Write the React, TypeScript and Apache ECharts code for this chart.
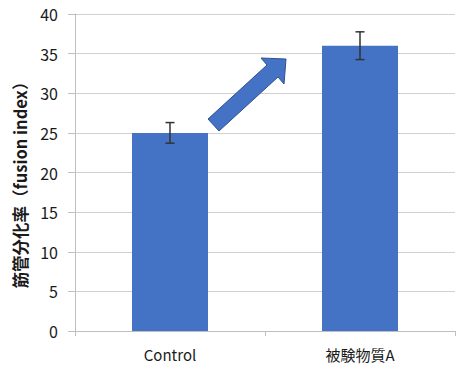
import React, { useEffect, useRef } from "react";
import * as echarts from "echarts";

const categories = ["Control", "被験物質A"];
const values = [25, 36];
const errors = [1.3, 1.75];
const yTicks = { min: 0, max: 40, interval: 5 };
const yAxisName = "筋管分化率（fusion index）";

export default function App() {
  const ref = useRef<HTMLDivElement>(null);
  useEffect(() => {
    document.body.style.margin = "0";
    if (!ref.current) return;
    const chart = echarts.init(ref.current, null, { renderer: "svg" });
    const font = "'Noto Sans CJK JP', 'Noto Sans', sans-serif";
    chart.setOption({
      animation: false,
      grid: { left: 75, right: 15, top: 14, bottom: 40 },
      xAxis: {
        type: "category",
        data: categories,
        axisLine: { lineStyle: { color: "#BFBFBF", width: 1 } },
        axisTick: { show: true, length: 5, lineStyle: { color: "#BFBFBF" } },
        axisLabel: { color: "#1a1a1a", fontSize: 15, fontFamily: font, margin: 16 },
      },
      yAxis: {
        type: "value",
        min: yTicks.min,
        max: yTicks.max,
        interval: yTicks.interval,
        axisLine: { show: true, lineStyle: { color: "#BFBFBF", width: 1 } },
        axisTick: { show: true, length: 7, lineStyle: { color: "#BFBFBF" } },
        axisLabel: { color: "#1a1a1a", fontSize: 16, fontFamily: font, margin: 17 },
        splitLine: { lineStyle: { color: "#D0D0D0", width: 1.2 } },
      },
      series: [
        {
          type: "bar",
          data: values,
          barWidth: "40%",
          itemStyle: { color: "#4472C4" },
        },
        {
          type: "custom",
          data: values.map((v, i) => [i, v - errors[i], v + errors[i]]),
          z: 10,
          renderItem: (params: any, api: any) => {
            const x = api.value(0);
            const lo = api.coord([x, api.value(1)]);
            const hi = api.coord([x, api.value(2)]);
            const hw = 4.5;
            const style = { stroke: "#333333", lineWidth: 1.5 };
            return {
              type: "group",
              children: [
                { type: "line", shape: { x1: lo[0], y1: lo[1], x2: hi[0], y2: hi[1] }, style },
                { type: "line", shape: { x1: lo[0] - hw, y1: lo[1], x2: lo[0] + hw, y2: lo[1] }, style },
                { type: "line", shape: { x1: hi[0] - hw, y1: hi[1], x2: hi[0] + hw, y2: hi[1] }, style },
              ],
            };
          },
        },
      ],
      graphic: [
        {
          type: "text",
          x: 20,
          y: 181,
          rotation: Math.PI / 2,
          style: {
            text: yAxisName,
            align: "center",
            verticalAlign: "middle",
            fontSize: 16.5,
            fontWeight: "bold",
            fontFamily: font,
            fill: "#1a1a1a",
          },
        },
        {
          type: "polygon",
          z: 100,
          shape: {
            points: [
              [208, 119],
              [267, 65],
              [261, 58],
              [286, 59],
              [284, 84],
              [278, 77],
              [219, 131],
            ],
          },
          style: { fill: "#4472C4", stroke: "#2F528F", lineWidth: 1 },
        },
      ],
    });
    return () => chart.dispose();
  }, []);
  return <div ref={ref} style={{ width: 470, height: 371 }} />;
}
